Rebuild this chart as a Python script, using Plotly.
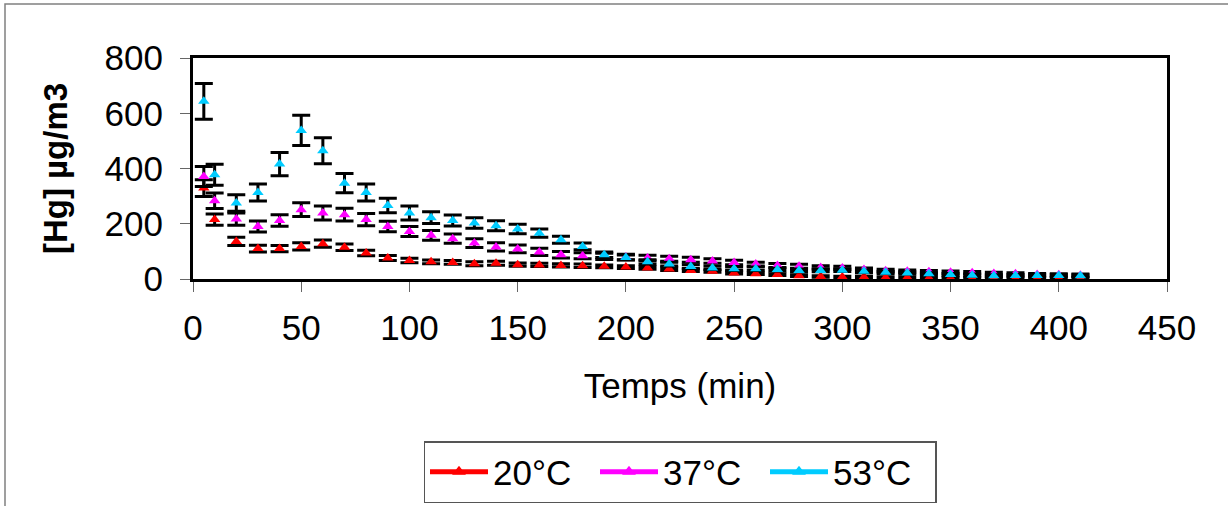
import plotly.graph_objects as go

# ---- data ----
temps_min = [5, 10, 20, 30, 40, 50, 60, 70, 80, 90, 100, 110, 120, 130, 140, 150,
             160, 170, 180, 190, 200, 210, 220, 230, 240, 250, 260, 270, 280, 290,
             300, 310, 320, 330, 340, 350, 360, 370, 380, 390, 400, 410]

hg_20 = [329, 215, 136, 110, 110, 118, 128, 115, 94, 76, 67, 62, 60, 55, 57, 52,
         51, 49, 48, 46, 43, 40, 36, 31, 28, 22, 19, 16, 12, 9,
         7, 7, 5, 5, 3, 3, 2, 2, 2, 2, 2, 2]
err_20 = [30, 20, 15, 12, 11, 13, 13, 12, 10, 9, 8, 7, 7, 7, 7, 6,
          6, 6, 6, 5, 5, 5, 5, 4, 4, 4, 3, 3, 3, 3,
          3, 3, 3, 3, 3, 3, 3, 3, 3, 3, 3, 3]

hg_37 = [371, 283, 217, 190, 212, 251, 239, 233, 215, 190, 172, 158, 146, 130, 116, 109,
         98, 88, 84, 82, 80, 76, 73, 70, 65, 60, 54, 49, 46, 42,
         40, 34, 30, 28, 26, 24, 23, 20, 19, 16, 15, 14]
err_37 = [36, 28, 22, 20, 21, 25, 25, 23, 22, 19, 18, 18, 17, 16, 15, 14,
          13, 12, 11, 11, 10, 10, 9, 9, 8, 8, 7, 7, 7, 6,
          6, 6, 5, 5, 5, 5, 4, 4, 4, 4, 4, 4]

hg_53 = [643, 377, 275, 313, 416, 538, 464, 347, 313, 266, 239, 222, 212, 203, 193, 181,
         166, 142, 118, 88, 78, 62, 54, 45, 40, 37, 37, 34, 31, 31,
         32, 28, 24, 22, 19, 16, 14, 12, 13, 13, 13, 12]
err_53 = [65, 38, 30, 31, 42, 55, 47, 35, 31, 26, 25, 21, 20, 19, 18, 17,
          15, 13, 12, 10, 9, 8, 7, 7, 6, 6, 6, 5, 5, 5,
          5, 5, 4, 4, 4, 4, 4, 3, 3, 3, 3, 3]

series_names = ["20°C", "37°C", "53°C"]
series_colors = ["#FF0000", "#FF00FF", "#00CCFF"]
series_values = [hg_20, hg_37, hg_53]
series_errors = [err_20, err_37, err_53]

x_ticks = [0, 50, 100, 150, 200, 250, 300, 350, 400, 450]
y_ticks = [0, 200, 400, 600, 800]

FONT = "Arial, 'Liberation Sans', sans-serif"

# plot area target (window px): x 193..1167, y 58..279 ; body margin removed below
L, T, PW, PH = 193, 58, 974, 221
W, H = 1228, 506

fig = go.Figure()

for name, color, vals, errs in zip(series_names, series_colors, series_values, series_errors):
    fig.add_trace(go.Scatter(
        x=temps_min, y=vals, mode="markers", name=name, showlegend=False,
        marker=dict(symbol="triangle-up", size=10, color=color),
        error_y=dict(type="data", array=errs, visible=True, color="black",
                     thickness=3, width=9),
    ))

# legend entries (line + marker, as in the original legend)
for name, color in zip(series_names, series_colors):
    fig.add_trace(go.Scatter(
        x=[None], y=[None], mode="lines+markers", name=name,
        line=dict(color=color, width=3),
        marker=dict(symbol="triangle-up", size=9, color=color),
    ))

def px_to_paper_x(px):
    return (px - L) / PW

def px_to_paper_y(py):
    return (T + PH - py) / PH

fig.update_layout(
    width=W, height=H,
    margin=dict(l=L, r=W - L - PW, t=T, b=H - T - PH, autoexpand=False),
    paper_bgcolor="white", plot_bgcolor="white",
    font=dict(family=FONT, size=35, color="black"),
    showlegend=True,
    legend=dict(
        orientation="h", x=0.5, xanchor="center", y=px_to_paper_y(441), yanchor="top",
        bordercolor="#555555", borderwidth=1.5, bgcolor="white",
        font=dict(family=FONT, size=35, color="black"),
        itemwidth=58, tracegroupgap=0, itemsizing="constant",
        entrywidth=97, entrywidthmode="pixels",
    ),
    shapes=[dict(type="rect", xref="paper", yref="paper",
                 x0=px_to_paper_x(5), x1=px_to_paper_x(1240),
                 y0=px_to_paper_y(530), y1=px_to_paper_y(4),
                 line=dict(color="#808080", width=1.5), fillcolor="rgba(0,0,0,0)",
                 layer="below")],
)

fig.update_xaxes(
    range=[0, 450], tickvals=x_ticks, ticktext=[str(v) for v in x_ticks],
    showgrid=False, zeroline=False,
    showline=True, linecolor="black", linewidth=3, mirror=True,
    ticks="outside", ticklen=10, tickwidth=1, tickcolor="#666666",
    ticklabelstandoff=6,
    tickfont=dict(family=FONT, size=35),
    title=dict(text="Temps (min)", font=dict(family=FONT, size=35), standoff=28),
)
fig.update_yaxes(
    range=[0, 800], tickvals=y_ticks, ticktext=[str(v) for v in y_ticks],
    showgrid=False, zeroline=False,
    showline=True, linecolor="black", linewidth=3, mirror=True,
    ticks="outside", ticklen=10, tickwidth=1, tickcolor="#666666",
    ticklabelstandoff=10,
    tickfont=dict(family=FONT, size=35),
    title=dict(text="<b>[Hg] µg/m3</b>", font=dict(family=FONT, size=33), standoff=28),
)

fig.write_html("out.html", config={"displayModeBar": False},
               post_script="document.body.style.margin='0';")
